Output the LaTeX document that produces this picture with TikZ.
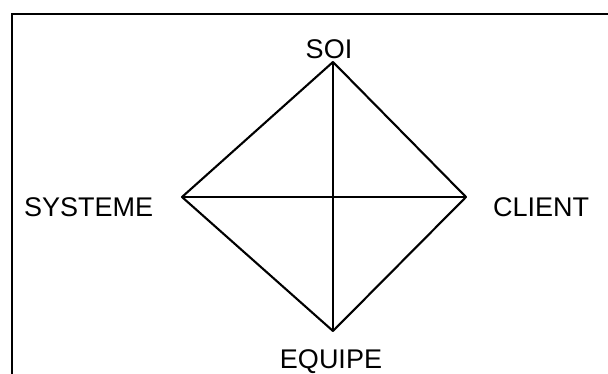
\documentclass[tikz,border=0pt]{standalone}
\usepackage{fontspec}
\setmainfont{Liberation Sans}
\begin{document}
\begin{tikzpicture}[x=1pt,y=-1pt,
  lbl/.style={inner sep=0pt,font=\fontsize{27}{32}\selectfont},
  edge/.style={line width=2.1pt,line join=round},
  axis/.style={line width=1.5pt},
  frame/.style={line width=1.8pt}]
\useasboundingbox (0,0) rectangle (608,374);
\fill[white] (0,0) rectangle (608,374);
\draw[frame] (12,380) -- (12,14) -- (612,14);
\coordinate (top) at (333,62);
\coordinate (left) at (182,197);
\coordinate (right) at (466,197);
\coordinate (bot) at (333,331);
\draw[edge] (top) -- (right) -- (bot) -- (left) -- cycle;
\draw[axis] (top) -- (bot);
\draw[axis] (left) -- (right);
\node[lbl,anchor=base] (soi) at (329,59) {SOI};
\node[lbl,anchor=base west] (sys) at (24,217) {SYSTEME};
\node[lbl,anchor=base west] (cli) at (493,217) {CLIENT};
\node[lbl,anchor=base] (equ) at (331,368) {EQUIPE};
\end{tikzpicture}
\end{document}
